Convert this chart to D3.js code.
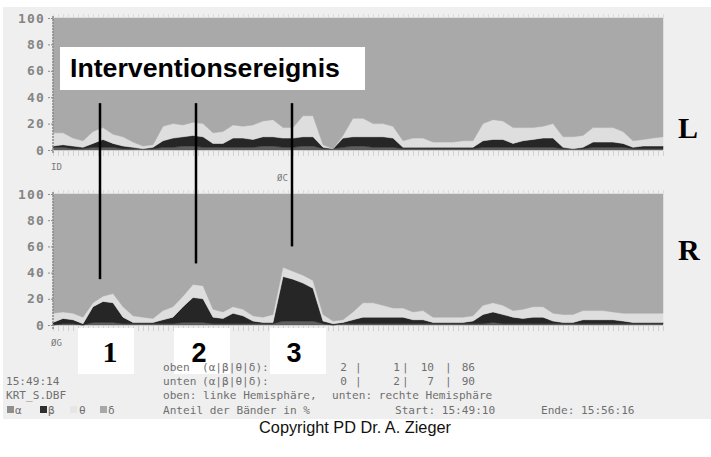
<!DOCTYPE html>
<html>
<head>
<meta charset="utf-8">
<script src="https://cdn.jsdelivr.net/npm/d3@7/dist/d3.min.js"></script>
<style>
  html, body { margin: 0; padding: 0; background: #ffffff; }
  svg { display: block; }
</style>
</head>
<body>
<svg id="chart" width="711" height="457"></svg>
<script>
// EEG band shares (percent) per sample, left hemisphere (oben)
const leftAlpha = [2,2,1,1,2,2,2,1,1,1, 1,2,2,3,3,2,2,2,2,2, 2,3,3,2,2,3,3,1,1,2, 3,3,2,2,2,1,1,1,1,1, 1,1,1,2,2,2,2,2,2,2, 2,1,1,1,2,2,2,2,1,1, 1,1];
const leftBeta  = [1,2,2,1,3,6,3,2,1,0, 1,5,7,7,8,8,3,3,7,7, 6,7,7,7,7,7,7,1,0,7, 7,7,8,8,7,1,1,1,1,1, 1,1,1,5,6,6,3,5,6,7, 7,1,0,1,4,4,4,3,1,2, 2,2];
const leftTheta = [10,9,6,5,9,9,7,7,4,2, 2,11,11,9,10,10,8,9,10,9, 11,12,13,8,8,16,16,2,0,2, 14,14,10,10,9,5,7,7,4,4, 4,5,5,13,15,14,12,10,9,9, 11,8,9,9,11,11,11,9,5,5, 6,7];
const leftDelta = [87,87,91,93,86,83,88,90,94,97, 96,82,80,81,79,80,87,86,81,82, 81,78,77,83,83,74,74,96,99,89, 76,76,80,80,82,93,91,91,94,94, 94,93,93,80,77,78,83,83,83,82, 80,90,90,89,83,83,83,86,93,92, 91,90];

// EEG band shares (percent) per sample, right hemisphere (unten)
const rightAlpha = [0,1,1,0,2,2,2,1,1,1, 1,1,1,2,2,2,1,1,1,1, 1,1,1,3,3,3,3,1,0,1, 1,1,1,1,1,1,1,1,1,1, 1,1,1,1,2,1,1,1,1,1, 1,1,1,1,1,1,1,1,1,1, 1,1];
const rightBeta  = [2,4,3,1,12,16,15,5,1,1, 1,3,5,12,19,18,5,4,8,6, 2,1,1,34,32,29,25,2,1,1, 3,5,5,5,5,5,3,3,1,1, 1,1,2,7,8,7,5,4,5,5, 2,1,1,3,3,3,3,2,1,1, 1,1];
const rightTheta = [7,5,5,5,3,4,7,8,5,4, 3,7,8,8,10,10,6,5,5,5, 4,4,6,7,6,6,6,5,2,2, 6,11,11,9,7,7,6,7,4,4, 4,4,4,7,7,7,5,7,8,8, 6,6,6,7,7,7,6,6,7,7, 7,7];
const rightDelta = [91,90,91,94,83,78,76,86,93,94, 95,89,86,78,69,70,88,90,86,88, 93,94,92,56,59,62,66,92,97,96, 90,83,83,85,87,87,90,89,94,94, 94,94,93,85,83,85,89,88,86,86, 91,92,92,89,89,89,90,91,91,91, 91,91];

const yTicks = [0, 20, 40, 60, 80, 100];
const bandKeys = ["alpha", "beta", "theta", "delta"];
const bandSymbols = ["α", "β", "θ", "δ"];

// sample index of the three intervention events
const interventionAt = [4.7, 14.3, 23.9];
const interventionNames = ["1", "2", "3"];

// cursor readout table
const readoutOben = ["2", "1", "10", "86"];
const readoutUnten = ["0", "2", "7", "90"];

const bandColor = { alpha: "#5e5e5e", beta: "#262626", theta: "#dedede", delta: "#a9a9a9" };
const legendColor = { alpha: "#8e8e8e", beta: "#2e2e2e", theta: "#e6e6e6", delta: "#a8a8a8" };

const MONO = "'DejaVu Sans Mono', monospace";
const svg = d3.select("#chart");

// screen background
svg.append("rect").attr("x", 0).attr("y", 0).attr("width", 711).attr("height", 457).attr("fill", "#ffffff");
svg.append("rect").attr("x", 3).attr("y", 7).attr("width", 708).attr("height", 412).attr("fill", "#efefef");

const n = leftDelta.length;
const x = d3.scaleLinear().domain([0, n - 1]).range([53, 663]);

const panels = [
  { name: "L", series: [leftAlpha, leftBeta, leftTheta, leftDelta], top: 18, bottom: 150, labelY: 138 },
  { name: "R", series: [rightAlpha, rightBeta, rightTheta, rightDelta], top: 194, bottom: 325, labelY: 260 }
];

const stack = d3.stack().keys(bandKeys);

panels.forEach(p => {
  const y = d3.scaleLinear().domain([0, 100]).range([p.bottom, p.top]);
  p.y = y;
  const rows = d3.range(n).map(i => {
    const r = {};
    bandKeys.forEach((k, j) => { r[k] = p.series[j][i]; });
    return r;
  });
  const layers = stack(rows);
  const area = d3.area()
    .x((d, i) => x(i))
    .y0(d => y(d[0]))
    .y1(d => y(d[1]))
    .curve(d3.curveLinear);

  const g = svg.append("g");
  g.selectAll("path.band")
    .data(layers)
    .join("path")
    .attr("class", "band")
    .attr("d", area)
    .attr("fill", d => bandColor[d.key])
    .attr("stroke", d => bandColor[d.key])
    .attr("stroke-width", 0.5);

  // faint time ticks along top and bottom edges
  const tb = svg.append("g").attr("transform", `translate(0,${p.bottom + 1})`)
    .call(d3.axisBottom(x).ticks(90).tickSize(5).tickFormat(""));
  tb.select(".domain").remove();
  tb.selectAll(".tick line").attr("stroke", "#d2d2d2");
  const tt = svg.append("g").attr("transform", `translate(0,${p.top})`)
    .call(d3.axisTop(x).ticks(90).tickSize(4).tickFormat(""));
  tt.select(".domain").remove();
  tt.selectAll(".tick line").attr("stroke", "#dcdcdc");

  // percent axis
  const ax = svg.append("g").attr("transform", "translate(53,0)")
    .call(d3.axisLeft(y).tickValues(yTicks).tickSize(6).tickPadding(2).tickFormat(d3.format("d")));
  ax.select(".domain").attr("stroke", "#8a8a8a").attr("stroke-width", 1.5).attr("stroke-dasharray", "2,1")
    .attr("d", `M0,${p.top - 2}V${p.bottom + 4}`);
  ax.selectAll(".tick line").attr("stroke", "#8a8a8a").attr("stroke-dasharray", "2,1");
  ax.selectAll(".tick text").attr("fill", "#858585").attr("font-family", MONO)
    .attr("font-size", 13).attr("font-weight", "bold").attr("letter-spacing", 1.2);

  // hemisphere label
  svg.append("text").attr("x", 678).attr("y", p.labelY)
    .attr("font-family", "'Liberation Serif', 'Times New Roman', serif")
    .attr("font-weight", "bold").attr("font-size", 30).attr("fill", "#000")
    .text(p.name);
});

// small channel markers
[["ID", 51, 170], ["ØC", 277, 181], ["ØG", 51, 346]].forEach(([t, tx, ty]) => {
  svg.append("text").attr("x", tx).attr("y", ty).attr("font-family", MONO)
    .attr("font-size", 9).attr("fill", "#7a7a7a").text(t);
});

// intervention annotation
const yL = panels[0].y, yR = panels[1].y;
svg.append("rect").attr("x", 60).attr("y", 47).attr("width", 305).attr("height", 43).attr("fill", "#ffffff");
svg.append("text").attr("x", 70).attr("y", 77)
  .attr("font-family", "'Liberation Sans', Arial, sans-serif").attr("font-weight", "bold")
  .attr("font-size", 26.7).attr("fill", "#000").text("Interventionsereignis");

const lineEnds = [35, 47, 60];
const labelShift = [10, 3, 2];
interventionAt.forEach((t, i) => {
  const lx = x(t);
  svg.append("line").attr("x1", lx).attr("x2", lx)
    .attr("y1", yL(35.5)).attr("y2", yR(lineEnds[i]))
    .attr("stroke", "#000").attr("stroke-width", 2.5);
  svg.append("rect").attr("x", lx - 22).attr("y", 328).attr("width", 56).attr("height", 46).attr("fill", "#ffffff");
  svg.append("text").attr("x", lx + labelShift[i]).attr("y", 362).attr("text-anchor", "middle")
    .attr("font-family", i === 0 ? "'Liberation Serif', serif" : "'Liberation Sans', Arial, sans-serif")
    .attr("font-weight", "bold").attr("font-size", i === 0 ? 30 : 27).attr("fill", "#000")
    .text(interventionNames[i]);
});

// status lines
function mono(t, tx, ty, anchor) {
  return svg.append("text").attr("x", tx).attr("y", ty).attr("font-family", MONO)
    .attr("font-size", 11.1).attr("fill", "#6f6f6f").attr("text-anchor", anchor || "start")
    .attr("xml:space", "preserve").text(t);
}
const rowY = [371, 385, 399, 414];
const bandHeader = "(" + bandSymbols.join("|") + "):";
mono("oben", 163, rowY[0]);
mono(bandHeader, 202, rowY[0]);
mono("unten", 163, rowY[1]);
mono(bandHeader, 202, rowY[1]);
const colX = [347, 400, 434, 475];
const pipeX = [355, 402, 445];
[readoutOben, readoutUnten].forEach((vals, r) => {
  vals.forEach((v, j) => {
    mono(v, colX[j], rowY[r], "end");
    if (j < 3) mono("|", pipeX[j], rowY[r]);
  });
});
mono("15:49:14", 6, rowY[1]);
mono("KRT_S.DBF", 6, rowY[2]);
mono("oben: linke Hemisphäre,", 163, rowY[2]);
mono("unten: rechte Hemisphäre", 332, rowY[2]);
mono("Anteil der Bänder in %", 163, rowY[3]);
mono("Start: 15:49:10", 395, rowY[3]);
mono("Ende: 15:56:16", 541, rowY[3]);

// band legend
const legendX = [7, 40, 70, 100];
bandKeys.forEach((k, j) => {
  svg.append("rect").attr("x", legendX[j]).attr("y", rowY[3] - 8).attr("width", 7).attr("height", 7)
    .attr("fill", legendColor[k]);
  mono(bandSymbols[j], legendX[j] + (j === 2 ? 9 : 8), rowY[3]);
});

svg.append("text").attr("x", 355).attr("y", 433).attr("text-anchor", "middle")
  .attr("font-family", "'Liberation Sans', Arial, sans-serif").attr("font-size", 16.3)
  .attr("fill", "#111").text("Copyright PD Dr. A. Zieger");
</script>
</body>
</html>
